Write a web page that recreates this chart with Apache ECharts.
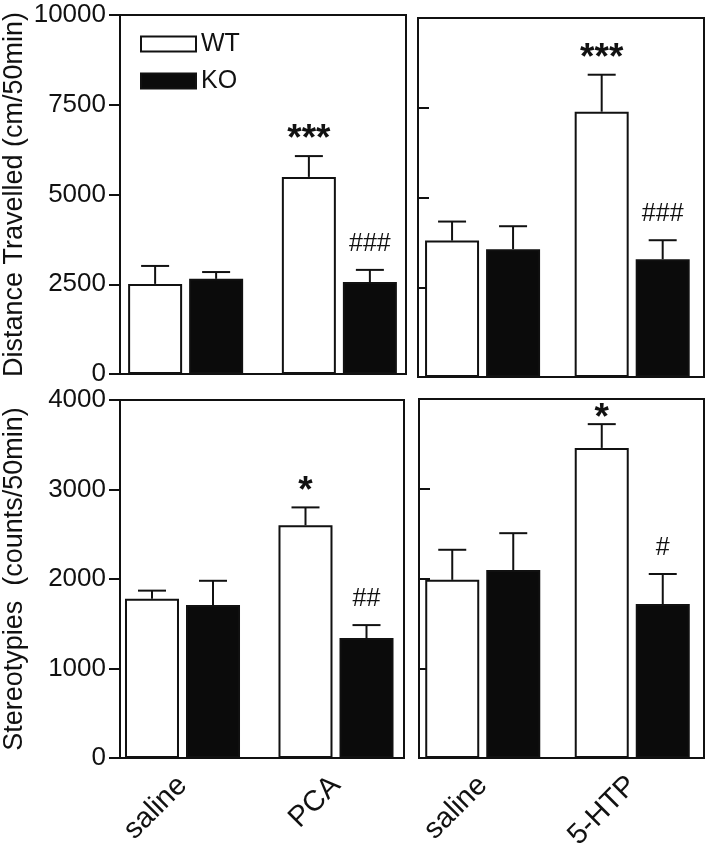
<!DOCTYPE html>
<html><head><meta charset="utf-8">
<script src="https://cdn.jsdelivr.net/npm/echarts@6/dist/echarts.min.js"></script>
<style>html,body{margin:0;padding:0;background:#fff}#c{width:707px;height:853px}</style>
</head><body><div id="c"></div>
<script>
// ---------- data ----------
const groups = ['WT', 'KO'];
const catsPCA = ['saline', 'PCA'];
const catsHTP = ['saline', '5-HTP'];

// Distance travelled (cm/50min)
const distPCA_WT = [2510, 5490];
const distPCA_WT_sem = [500, 580];
const distPCA_KO = [2650, 2560];
const distPCA_KO_sem = [190, 340];
const distHTP_WT = [3800, 7390];
const distHTP_WT_sem = [530, 1030];
const distHTP_KO = [3560, 3280];
const distHTP_KO_sem = [640, 530];

// Stereotypies (counts/50min)
const sterPCA_WT = [1780, 2600];
const sterPCA_WT_sem = [90, 200];
const sterPCA_KO = [1710, 1340];
const sterPCA_KO_sem = [270, 145];
const sterHTP_WT = [1985, 3455];
const sterHTP_WT_sem = [335, 265];
const sterHTP_KO = [2095, 1715];
const sterHTP_KO_sem = [410, 335];

// significance marks
const sigDistPCA_WT = ['', '***'];
const sigDistPCA_KO = ['', '###'];
const sigDistHTP_WT = ['', '***'];
const sigDistHTP_KO = ['', '###'];
const sigSterPCA_WT = ['', '*'];
const sigSterPCA_KO = ['', '##'];
const sigSterHTP_WT = ['', '*'];
const sigSterHTP_KO = ['', '#'];

// axis ticks
const distTicks = [0, 2500, 5000, 7500, 10000];
const sterTicks = [0, 1000, 2000, 3000, 4000];

const distTitle = 'Distance Travelled (cm/50min)';
const sterTitle = 'Stereotypies  (counts/50min)';

// ---------- layout / style ----------
const FONT = '"Liberation Sans", Arial, Helvetica, sans-serif';
const INK = '#111';
const BAR_W = 54, BAR_GAP = 7;

const panels = [
  { frame: {left:118, top:15, width:288, height:359}, bars: {left:108.75, width:307.5},
    cats: catsPCA, wt: distPCA_WT, wtSem: distPCA_WT_sem, ko: distPCA_KO, koSem: distPCA_KO_sem,
    sigWT: sigDistPCA_WT, sigKO: sigDistPCA_KO, ticks: distTicks, yLabels: true, xLabels: false, title: distTitle },
  { frame: {left:418, top:18, width:286, height:359}, bars: {left:407.75, width:307},
    cats: catsHTP, wt: distHTP_WT, wtSem: distHTP_WT_sem, ko: distHTP_KO, koSem: distHTP_KO_sem,
    sigWT: sigDistHTP_WT, sigKO: sigDistHTP_KO, ticks: distTicks, yLabels: false, xLabels: false, title: '' },
  { frame: {left:117, top:400, width:287, height:358}, bars: {left:105.75, width:307},
    cats: catsPCA, wt: sterPCA_WT, wtSem: sterPCA_WT_sem, ko: sterPCA_KO, koSem: sterPCA_KO_sem,
    sigWT: sigSterPCA_WT, sigKO: sigSterPCA_KO, ticks: sterTicks, yLabels: true, xLabels: true, title: sterTitle },
  { frame: {left:419, top:399, width:285, height:359}, bars: {left:408, width:308},
    cats: catsHTP, wt: sterHTP_WT, wtSem: sterHTP_WT_sem, ko: sterHTP_KO, koSem: sterHTP_KO_sem,
    sigWT: sigSterHTP_WT, sigKO: sigSterHTP_KO, ticks: sterTicks, yLabels: false, xLabels: true, title: '' }
];

const grid = [], xAxis = [], yAxis = [], series = [];

function errSeries(idx, means, sems, sigs, offset) {
  const data = means.map((m, i) => [i, m, m + sems[i]]);
  return {
    type: 'custom', xAxisIndex: idx, yAxisIndex: idx, silent: true, z: 5,
    encode: { x: 0, y: [1, 2] },
    data: data,
    renderItem: function (params, api) {
      const i = api.value(0), m = api.value(1), t = api.value(2);
      const b = api.coord([i, m]);
      const tp = api.coord([i, t]);
      const x = b[0] + offset;
      const children = [
        { type: 'line', shape: { x1: x, y1: b[1], x2: x, y2: tp[1] }, style: { stroke: INK, lineWidth: 2 } },
        { type: 'line', shape: { x1: x - 14, y1: tp[1], x2: x + 14, y2: tp[1] }, style: { stroke: INK, lineWidth: 2 } }
      ];
      const s = sigs[params.dataIndex];
      if (s) {
        const star = s.indexOf('*') >= 0;
        let ty = tp[1] - (star ? 16 : 26);
        if (star) ty = Math.max(ty, params.coordSys.y + 20);
        children.push({
          type: 'text',
          style: {
            text: s, x: x, y: ty,
            align: 'center', verticalAlign: 'middle',
            font: (star ? 'bold 37px ' : '25px ') + FONT, fill: INK
          }
        });
      }
      return { type: 'group', children: children };
    }
  };
}

panels.forEach((p, k) => {
  const fi = 2 * k, bi = 2 * k + 1;
  const mn = p.ticks[0], mx = p.ticks[p.ticks.length - 1], iv = p.ticks[1] - p.ticks[0];
  grid.push({ left: p.frame.left, top: p.frame.top, width: p.frame.width, height: p.frame.height,
              show: true, borderColor: INK, borderWidth: 2, backgroundColor: 'transparent' });
  grid.push({ left: p.bars.left, top: p.frame.top, width: p.bars.width, height: p.frame.height });
  xAxis.push({ gridIndex: fi, type: 'category', data: p.cats, show: false });
  xAxis.push({ gridIndex: bi, type: 'category', data: p.cats,
    axisLine: { show: false }, axisTick: { show: false }, splitLine: { show: false },
    axisLabel: { show: p.xLabels, rotate: 45, margin: 23, fontSize: 29, color: INK, fontFamily: FONT, interval: 0 } });
  yAxis.push({ gridIndex: fi, type: 'value', min: mn, max: mx, interval: iv,
    name: p.title, nameLocation: 'middle', nameGap: 92,
    nameTextStyle: { fontSize: 27, color: INK, fontFamily: FONT },
    axisLine: { show: true, lineStyle: { color: INK, width: 2 } },
    axisTick: { show: true, inside: !p.yLabels, length: 11, lineStyle: { color: INK, width: 2 } },
    splitLine: { show: false },
    axisLabel: { show: p.yLabels, margin: 14, fontSize: 26, color: INK, fontFamily: FONT,
                 formatter: v => String(v) } });
  yAxis.push({ gridIndex: bi, type: 'value', min: mn, max: mx, interval: iv, show: false, splitLine: { show: false } });

  series.push({ type: 'bar', name: groups[0], xAxisIndex: bi, yAxisIndex: bi, data: p.wt,
    barWidth: BAR_W, barGap: (BAR_GAP / BAR_W * 100).toFixed(1) + '%', silent: true,
    itemStyle: { color: '#ffffff', borderColor: INK, borderWidth: 2 } });
  series.push({ type: 'bar', name: groups[1], xAxisIndex: bi, yAxisIndex: bi, data: p.ko,
    barWidth: BAR_W, barGap: (BAR_GAP / BAR_W * 100).toFixed(1) + '%', silent: true,
    itemStyle: { color: '#0b0b0b', borderColor: INK, borderWidth: 2 } });
  const off = (BAR_W + BAR_GAP) / 2;
  series.push(errSeries(bi, p.wt, p.wtSem, p.sigWT, -off));
  series.push(errSeries(bi, p.ko, p.koSem, p.sigKO, off));
});

const chart = echarts.init(document.getElementById('c'), null, { renderer: 'canvas' });
chart.setOption({
  backgroundColor: '#ffffff',
  animation: false,
  textStyle: { fontFamily: FONT },
  legend: {
    data: groups, orient: 'vertical', left: 135, top: 26, icon: 'rect',
    itemWidth: 55, itemHeight: 15, itemGap: 11, selectedMode: false,
    textStyle: { fontSize: 25, color: INK, fontFamily: FONT, lineHeight: 26 }
  },
  grid: grid, xAxis: xAxis, yAxis: yAxis, series: series
});
</script></body></html>
